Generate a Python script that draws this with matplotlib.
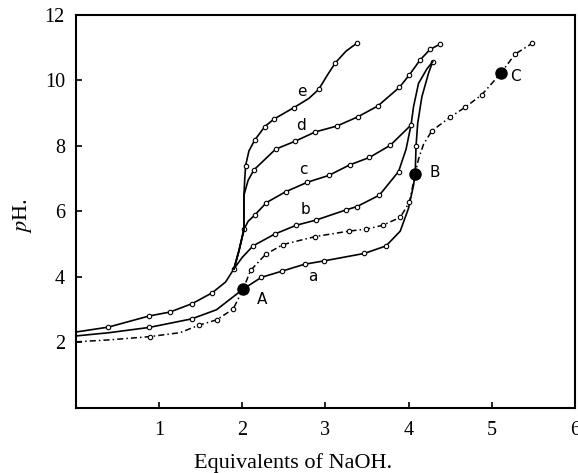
import matplotlib.pyplot as plt

plt.rcParams['font.family'] = ['Liberation Serif', 'DejaVu Serif']
plt.rcParams['mathtext.fontset'] = 'stix'

# curve a (solid, lower)
a_x = [0, 0.4, 0.88, 1.39, 1.69, 2.01, 2.23, 2.48, 2.75, 2.98, 3.47, 3.73, 3.9, 4.0, 4.06, 4.08, 4.09, 4.11, 4.16, 4.24, 4.29]
a_y = [2.2, 2.3, 2.46, 2.72, 3.0, 3.63, 3.99, 4.18, 4.39, 4.49, 4.72, 4.95, 5.4, 6.1, 6.8, 7.15, 8.0, 8.69, 9.5, 10.22, 10.57]
a_marks = [2, 3, 6, 7, 8, 9, 10, 11, 16, 20]

# common start of b..e (solid, upper)
base_x = [0, 0.39, 0.88, 1.13, 1.40, 1.64, 1.80, 1.90]
base_y = [2.32, 2.47, 2.81, 2.93, 3.19, 3.52, 3.85, 4.25]
base_marks = [1, 2, 3, 4, 5, 7]

b_x = [1.90, 2.0, 2.13, 2.39, 2.65, 2.89, 3.25, 3.38, 3.65, 3.88, 3.97, 4.03, 4.06, 4.12, 4.22, 4.29]
b_y = [4.25, 4.6, 4.95, 5.31, 5.58, 5.74, 6.05, 6.15, 6.5, 7.22, 7.9, 8.64, 9.2, 9.91, 10.35, 10.57]
b_marks = [2, 3, 4, 5, 6, 7, 8, 9]

c_x = [1.90, 1.96, 2.02, 2.07, 2.15, 2.29, 2.52, 2.78, 3.04, 3.29, 3.53, 3.78, 4.03]
c_y = [4.25, 4.8, 5.45, 5.7, 5.89, 6.27, 6.6, 6.89, 7.1, 7.42, 7.65, 8.02, 8.64]
c_marks = [2, 4, 5, 6, 7, 8, 9, 10, 11, 12]

d_x = [1.90, 1.96, 2.02, 2.02, 2.07, 2.14, 2.40, 2.64, 2.88, 3.14, 3.39, 3.63, 3.89, 4.01, 4.14, 4.26, 4.38]
d_y = [4.25, 4.8, 5.45, 6.5, 6.95, 7.27, 7.9, 8.15, 8.43, 8.61, 8.89, 9.22, 9.79, 10.17, 10.63, 10.95, 11.11]
d_marks = [5, 6, 7, 8, 9, 10, 11, 12, 13, 14, 15, 16]

e_x = [1.90, 1.96, 2.02, 2.02, 2.03, 2.04, 2.08, 2.15, 2.27, 2.38, 2.62, 2.8, 2.92, 3.02, 3.12, 3.25, 3.38]
e_y = [4.25, 4.8, 5.45, 6.5, 7.0, 7.40, 7.85, 8.18, 8.59, 8.82, 9.17, 9.45, 9.73, 10.15, 10.54, 10.9, 11.14]
e_marks = [5, 7, 8, 9, 10, 12, 14, 16]

# dashed curve through A, B and C
f_x = [0, 0.4, 0.89, 1.25, 1.48, 1.69, 1.89, 2.01, 2.1, 2.28, 2.49, 2.87, 3.28, 3.49, 3.69, 3.90, 4.01, 4.08,
       4.12, 4.18, 4.28, 4.50, 4.68, 4.88, 5.11, 5.28, 5.49]
f_y = [2.02, 2.08, 2.18, 2.3, 2.53, 2.69, 3.02, 3.63, 4.2, 4.69, 4.99, 5.23, 5.40, 5.46, 5.58, 5.82, 6.28, 7.15,
       7.6, 8.05, 8.46, 8.88, 9.18, 9.56, 10.22, 10.8, 11.14]
f_marks = [2, 4, 5, 6, 8, 9, 10, 11, 12, 13, 14, 15, 16, 20, 21, 22, 23, 25, 26]

# labelled points
pt_names = ['A', 'B', 'C']
pt_x = [2.01, 4.08, 5.11]
pt_y = [3.63, 7.15, 10.22]
pt_lx = [2.24, 4.32, 5.29]
pt_ly = [3.3, 7.2, 10.12]

curve_names = ['a', 'b', 'c', 'd', 'e']
curve_lx = [2.85, 2.76, 2.74, 2.71, 2.72]
curve_ly = [4.03, 6.05, 7.27, 8.64, 9.65]

fig = plt.figure(figsize=(5.78, 4.73), dpi=100)
ax = fig.add_axes([0.1315, 0.1374, 0.863, 0.831])

mk = dict(marker='o', markersize=3.2, markerfacecolor='white', markeredgecolor='black', markeredgewidth=0.8)

ax.plot(a_x, a_y, color='black', lw=1.2, markevery=a_marks, **mk)
ax.plot(base_x, base_y, color='black', lw=1.2, markevery=base_marks, **mk)
ax.plot(b_x, b_y, color='black', lw=1.2, markevery=b_marks, **mk)
ax.plot(c_x, c_y, color='black', lw=1.2, markevery=c_marks, **mk)
ax.plot(d_x, d_y, color='black', lw=1.2, markevery=d_marks, **mk)
ax.plot(e_x, e_y, color='black', lw=1.2, markevery=e_marks, **mk)
ax.plot(f_x, f_y, color='black', lw=1.1, linestyle=(0, (4, 2, 1, 2)), markevery=f_marks, **mk)

ax.plot(pt_x, pt_y, 'o', color='black', markersize=8, zorder=5)
for name, x, y in zip(pt_names, pt_lx, pt_ly):
    ax.text(x, y, name, family='DejaVu Sans', fontsize=11, ha='center', va='center')

for name, x, y in zip(curve_names, curve_lx, curve_ly):
    ax.text(x, y, name, family='DejaVu Sans', fontsize=11, ha='center', va='center')

ax.set_xlim(0, 6)
ax.set_ylim(0, 12)
ax.set_xticks([1, 2, 3, 4, 5, 6])
ax.set_yticks([2, 4, 6, 8, 10, 12])
ax.tick_params(direction='in', length=4, width=1.2, labelsize=14.5)
ax.tick_params(axis='x', pad=9)
ax.tick_params(axis='y', pad=8)
for s in ax.spines.values():
    s.set_linewidth(1.5)

fig.text(293 / 578, 1 - 463 / 473, 'Equivalents of NaOH.', fontsize=16, ha='center', va='center')
fig.text(22 / 578, 1 - 215 / 473, r'$p$H.', fontsize=16, rotation=90, ha='center', va='center')

fig.savefig('out.png', dpi=100)
